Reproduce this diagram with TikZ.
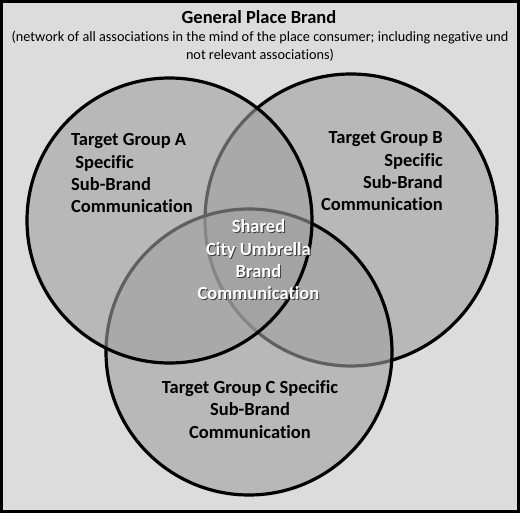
\documentclass[tikz,border=0pt]{standalone}
\usepackage{fontspec}
\setmainfont[Ligatures=NoCommon]{Carlito}
\definecolor{bgcol}{RGB}{220,220,220}
\definecolor{circfill}{RGB}{160,160,160}
\definecolor{shadowcol}{RGB}{60,60,60}
\begin{document}
\begin{tikzpicture}[x=1pt,y=-1pt,
  venn/.style={draw=black, line width=3.2pt, fill=circfill, fill opacity=0.6},
  lbl/.style={font=\fontsize{18.5}{22.4}\selectfont\bfseries, inner sep=0pt, text=black},
  wlbl/.style={font=\fontsize{18.5}{22.4}\selectfont\bfseries, inner sep=0pt, text=white, align=center},
  slbl/.style={font=\fontsize{18.5}{22.4}\selectfont\bfseries, inner sep=0pt, text=shadowcol, align=center}]
\useasboundingbox (0,0) rectangle (520,513);
\draw[line width=3pt, fill=bgcol] (1.5,1.5) rectangle (518.5,511.5);
% circles: B, C, A order
\path[venn] (351,220) circle[radius=146];
\path[venn] (249,352) circle[radius=143];
\path[venn] (169.5,220.5) circle[radius=142.5];
% title
\node[inner sep=0pt, anchor=base, font=\fontsize{18.5}{22}\selectfont\bfseries] (title) at (259,24) {General Place Brand};
\node[inner sep=0pt, anchor=base, align=center, font=\fontsize{14.25}{18}\selectfont] (sub) at (260,60) {(network of all associations in the mind of the place consumer; including negative und\\not relevant associations)};
% labels
\node[lbl, anchor=base west, align=left] (la) at (71,213) {Target Group A\\ \ Specific\\Sub-Brand\\Communication};
\node[lbl, anchor=base east, align=right] (lb) at (443,211) {Target Group B\\Specific\\Sub-Brand\\Communication};
\node[lbl, anchor=base, align=center] (lc) at (250,438) {Target Group C Specific\\Sub-Brand\\Communication};
\node[slbl, anchor=base] (lsh) at (259.5,301) {Shared\\City Umbrella\\Brand\\Communication};
\node[wlbl, anchor=base] (ls) at (258.5,300) {Shared\\City Umbrella\\Brand\\Communication};
\end{tikzpicture}
\end{document}
